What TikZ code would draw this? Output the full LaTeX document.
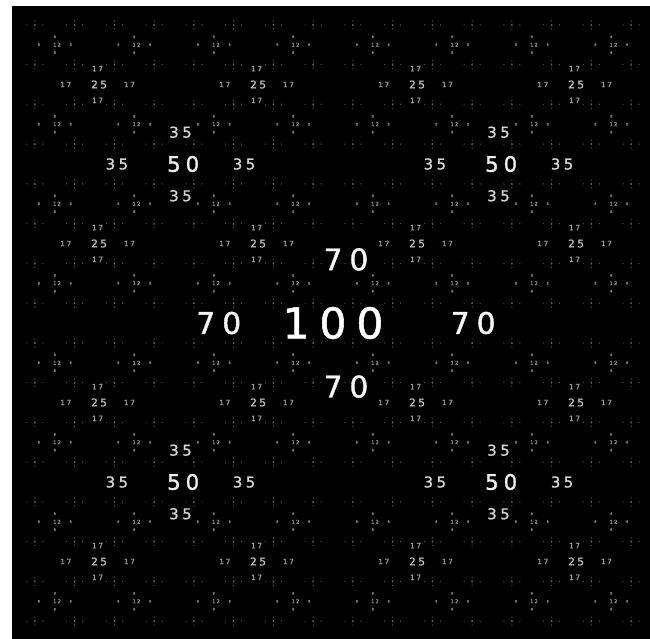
\documentclass[tikz,border=0pt]{standalone}
\usepackage{fontspec}
\setmainfont{DejaVu Sans}[FakeBold=1.2]
\newcounter{nc}
\newcommand\dg[1]{\makebox[0.87em]{#1}}
\tikzset{num/.style={inner sep=0pt, outer sep=0pt, anchor=center}}
\newcommand\lvset[1]{%
 \ifcase#1
  \def\vtxt{\dg1\dg0\dg0}\def\ctxt{\dg7\dg0}\def\vsz{42.5}\def\csz{29.75}%
  \def\vcol{white}\def\ccol{white!97!black}\def\vsh{0}\def\csh{13}%
 \or
  \def\vtxt{\dg5\dg0}\def\ctxt{\dg3\dg5}\def\vsz{21.25}\def\csz{14.9}%
  \def\vcol{white!94!black}\def\ccol{white!84!black}\def\vsh{9.2}\def\csh{6.5}%
 \or
  \def\vtxt{\dg2\dg5}\def\ctxt{\dg1\dg7}\def\vsz{10.6}\def\csz{7.2}%
  \def\vcol{white!76!black}\def\ccol{white!64!black}\def\vsh{4.6}\def\csh{3.1}%
 \or
  \def\vtxt{\dg1\dg2}\def\ctxt{\dg8}\def\vsz{5.1}\def\csz{3.4}%
  \def\vcol{white!58!black}\def\ccol{white!48!black}\def\vsh{2.2}\def\csh{0}%
 \else
  \def\vtxt{\dg6}\def\ctxt{\dg4}\def\vsz{2.55}\def\csz{1.7}%
  \def\vcol{white!40!black}\def\ccol{white!34!black}\def\vsh{0}\def\csh{0}%
 \fi}
\newcommand\cell[4]{%
 \lvset{#4}%
 \stepcounter{nc}%
 \pgfmathsetmacro\hx{#3/5}\pgfmathsetmacro\hy{#3/10}%
 \node[num,text=\vcol,font=\fontsize{\vsz}{\vsz}\selectfont] (v\arabic{nc}) at ({#1+\vsh},{#2}) {\vtxt};
 \node[num,text=\ccol,font=\fontsize{\csz}{\csz}\selectfont] (l\arabic{nc}) at ({#1+\csh-\hx},{#2}) {\ctxt};
 \node[num,text=\ccol,font=\fontsize{\csz}{\csz}\selectfont] (r\arabic{nc}) at ({#1+\csh+\hx},{#2}) {\ctxt};
 \node[num,text=\ccol,font=\fontsize{\csz}{\csz}\selectfont] (t\arabic{nc}) at ({#1+\csh},{#2-\hy}) {\ctxt};
 \node[num,text=\ccol,font=\fontsize{\csz}{\csz}\selectfont] (b\arabic{nc}) at ({#1+\csh},{#2+\hy}) {\ctxt};
}
\newcommand\fracto[4]{%
 \ifnum#4<4
  \foreach \a in {-1,1}{\foreach \b in {-1,1}{%
    \pgfmathsetmacro\nx{#1+\a*#3/4}%
    \pgfmathsetmacro\ny{#2+\b*#3/4}%
    \pgfmathsetmacro\ns{#3/2}%
    \pgfmathtruncatemacro\nl{#4+1}%
    \edef\tmp{\noexpand\fracto{\nx}{\ny}{\ns}{\nl}}\tmp}}%
 \fi
 \cell{#1}{#2}{#3}{#4}%
}
\begin{document}
\begin{tikzpicture}[x=1pt,y=-1pt]
\useasboundingbox (0,0) rectangle (650,639);
\fill[white] (0,0) rectangle (650,639);
\fill[black] (12,6.5) rectangle (650,639);
\fracto{333}{323}{636}{0}
\end{tikzpicture}
\end{document}
